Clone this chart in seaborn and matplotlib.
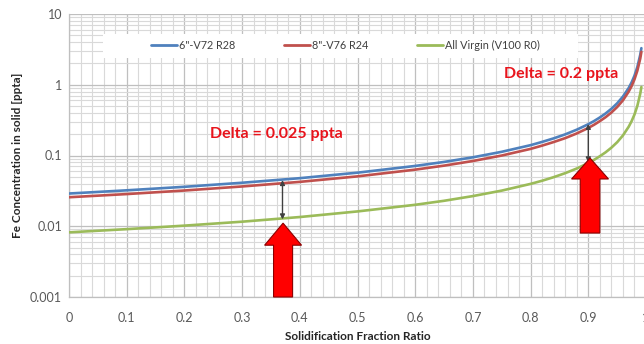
import numpy as np
import pandas as pd
import matplotlib
matplotlib.use("Agg")
import matplotlib.pyplot as plt
import matplotlib.patches as mpatches
from matplotlib.ticker import MultipleLocator, LogLocator, NullFormatter, FixedLocator, FixedFormatter
import seaborn as sns

# Solidification fraction (x) and Fe concentration in solid [ppta]
fraction = [0.0, 0.1, 0.2, 0.3, 0.4, 0.5, 0.6, 0.65, 0.7, 0.75, 0.8, 0.82, 0.84, 0.86,
            0.88, 0.9, 0.91, 0.92, 0.93, 0.94, 0.95, 0.96, 0.97, 0.975, 0.98, 0.985,
            0.99, 0.992]
conc_6in = [0.029, 0.0322, 0.0361, 0.0412, 0.0478, 0.0572, 0.0712, 0.0811, 0.0943,
            0.1128, 0.140, 0.1557, 0.1747, 0.199, 0.2316, 0.277, 0.307, 0.345, 0.393,
            0.457, 0.546, 0.680, 0.90, 1.077, 1.34, 1.78, 2.64, 3.29]
conc_8in = [0.0257, 0.0285, 0.0320, 0.0365, 0.0424, 0.0507, 0.0631, 0.0719, 0.0836,
            0.0999, 0.124, 0.138, 0.155, 0.176, 0.205, 0.245, 0.272, 0.306, 0.348,
            0.405, 0.484, 0.602, 0.80, 0.954, 1.19, 1.58, 2.34, 2.92]
conc_virgin = [0.0082, 0.0091, 0.0102, 0.0116, 0.0135, 0.0162, 0.0201, 0.0229, 0.0267,
               0.0319, 0.0397, 0.0440, 0.0494, 0.0563, 0.0655, 0.0783, 0.0868, 0.0976,
               0.111, 0.129, 0.154, 0.192, 0.255, 0.305, 0.379, 0.503, 0.746, 0.93]
series_names = ['6"-V72 R28', '8"-V76 R24', 'All Virgin (V100 R0)']
series_colors = ['#4f81bd', '#c0504d', '#9bbb59']

# delta annotations
delta_x = [0.37, 0.9]
delta_upper = [0.045, 0.28]
delta_lower = [0.0125, 0.08]

df = pd.DataFrame({
    'fraction': fraction * 3,
    'conc': conc_6in + conc_8in + conc_virgin,
    'series': [series_names[0]] * len(fraction) + [series_names[1]] * len(fraction)
              + [series_names[2]] * len(fraction),
})

sns.set_style("white")
plt.rcParams['font.family'] = ['Lato', 'DejaVu Sans']

fig = plt.figure(figsize=(6.44, 3.44), dpi=100)
ax = fig.add_axes([69 / 644, 47 / 344, 577 / 644, 283 / 344])

sns.lineplot(data=df, x='fraction', y='conc', hue='series', palette=series_colors,
             hue_order=series_names, linewidth=1.9, ax=ax, legend=False, zorder=3)

ax.set_yscale('log')
ax.set_xlim(0, 1)
ax.set_ylim(0.001, 10)

# grid
ax.xaxis.set_minor_locator(MultipleLocator(0.02))
ax.yaxis.set_minor_locator(LogLocator(base=10, subs=np.arange(2, 10), numticks=10))
ax.yaxis.set_minor_formatter(NullFormatter())
ax.grid(which='major', color='#bfbfbf', linewidth=0.9, zorder=0)
ax.grid(which='minor', color='#d9d9d9', linewidth=0.8, zorder=0)
ax.set_axisbelow(True)

ax.set_xticks([0, 0.1, 0.2, 0.3, 0.4, 0.5, 0.6, 0.7, 0.8, 0.9, 1.0])
ax.set_xticklabels(['0', '0.1', '0.2', '0.3', '0.4', '0.5', '0.6', '0.7', '0.8', '0.9', '1'])
ax.yaxis.set_major_locator(FixedLocator([0.001, 0.01, 0.1, 1, 10]))
ax.yaxis.set_major_formatter(FixedFormatter(['0.001', '0.01', '0.1', '1', '10']))
ax.tick_params(axis='both', which='major', labelsize=9, colors='#595959',
               length=3, width=0.8, direction='out')
ax.tick_params(axis='x', which='major', pad=8)
ax.tick_params(axis='y', which='major', pad=2)
ax.tick_params(which='minor', length=0)

for side in ['top', 'right']:
    ax.spines[side].set_visible(False)
for side in ['left', 'bottom']:
    ax.spines[side].set_color('#bfbfbf')
    ax.spines[side].set_linewidth(0.9)

ax.set_xlabel('Solidification Fraction Ratio', fontsize=8.5, fontweight='bold', labelpad=5)
ax.set_ylabel('Fe Concentration in solid [ppta]', fontsize=8.5, fontweight='bold', labelpad=5)

# legend on a white band
band = mpatches.Rectangle((0.059, 0.845), 0.823, 0.085, transform=ax.transAxes,
                          facecolor='white', edgecolor='none', zorder=2)
ax.add_patch(band)
handles = [plt.Line2D([], [], color=c, linewidth=2) for c in series_colors]
ax.legend(handles, series_names, loc='center', bbox_to_anchor=(0.479, 0.888), ncol=3,
          frameon=False, fontsize=7.8, handlelength=2.4, handletextpad=0.2,
          columnspacing=4.5, labelcolor='#404040')

# double-headed delta arrows
for x, hi, lo in zip(delta_x, delta_upper, delta_lower):
    ax.annotate('', xy=(x, lo), xytext=(x, hi),
                arrowprops=dict(arrowstyle='<|-|>', color='#404040', lw=1,
                                mutation_scale=7, shrinkA=0, shrinkB=0), zorder=4)

# big red block arrows (axes fraction coordinates)
def block_arrow(xc, y0, y1, body_w, head_w, head_len):
    ar = mpatches.FancyArrow(xc, y0, 0, y1 - y0, width=body_w, head_width=head_w,
                             head_length=head_len, length_includes_head=True,
                             transform=ax.transAxes, facecolor='#ff0000',
                             edgecolor='#8b0000', linewidth=0.8, zorder=5,
                             clip_on=False)
    ax.add_patch(ar)

block_arrow(0.371, 0.0, 0.261, 0.033, 0.064, 0.078)
block_arrow(0.903, 0.226, 0.491, 0.034, 0.064, 0.074)

ax.text(0.244, 0.2, 'Delta = 0.025 ppta', color='#e8141c', fontsize=11.5,
        fontweight='bold', va='center', ha='left', zorder=6)
ax.text(0.754, 1.4, 'Delta = 0.2 ppta', color='#e8141c', fontsize=11.5,
        fontweight='bold', va='center', ha='left', zorder=6, clip_on=False)

fig.savefig('out.png', dpi=100)
